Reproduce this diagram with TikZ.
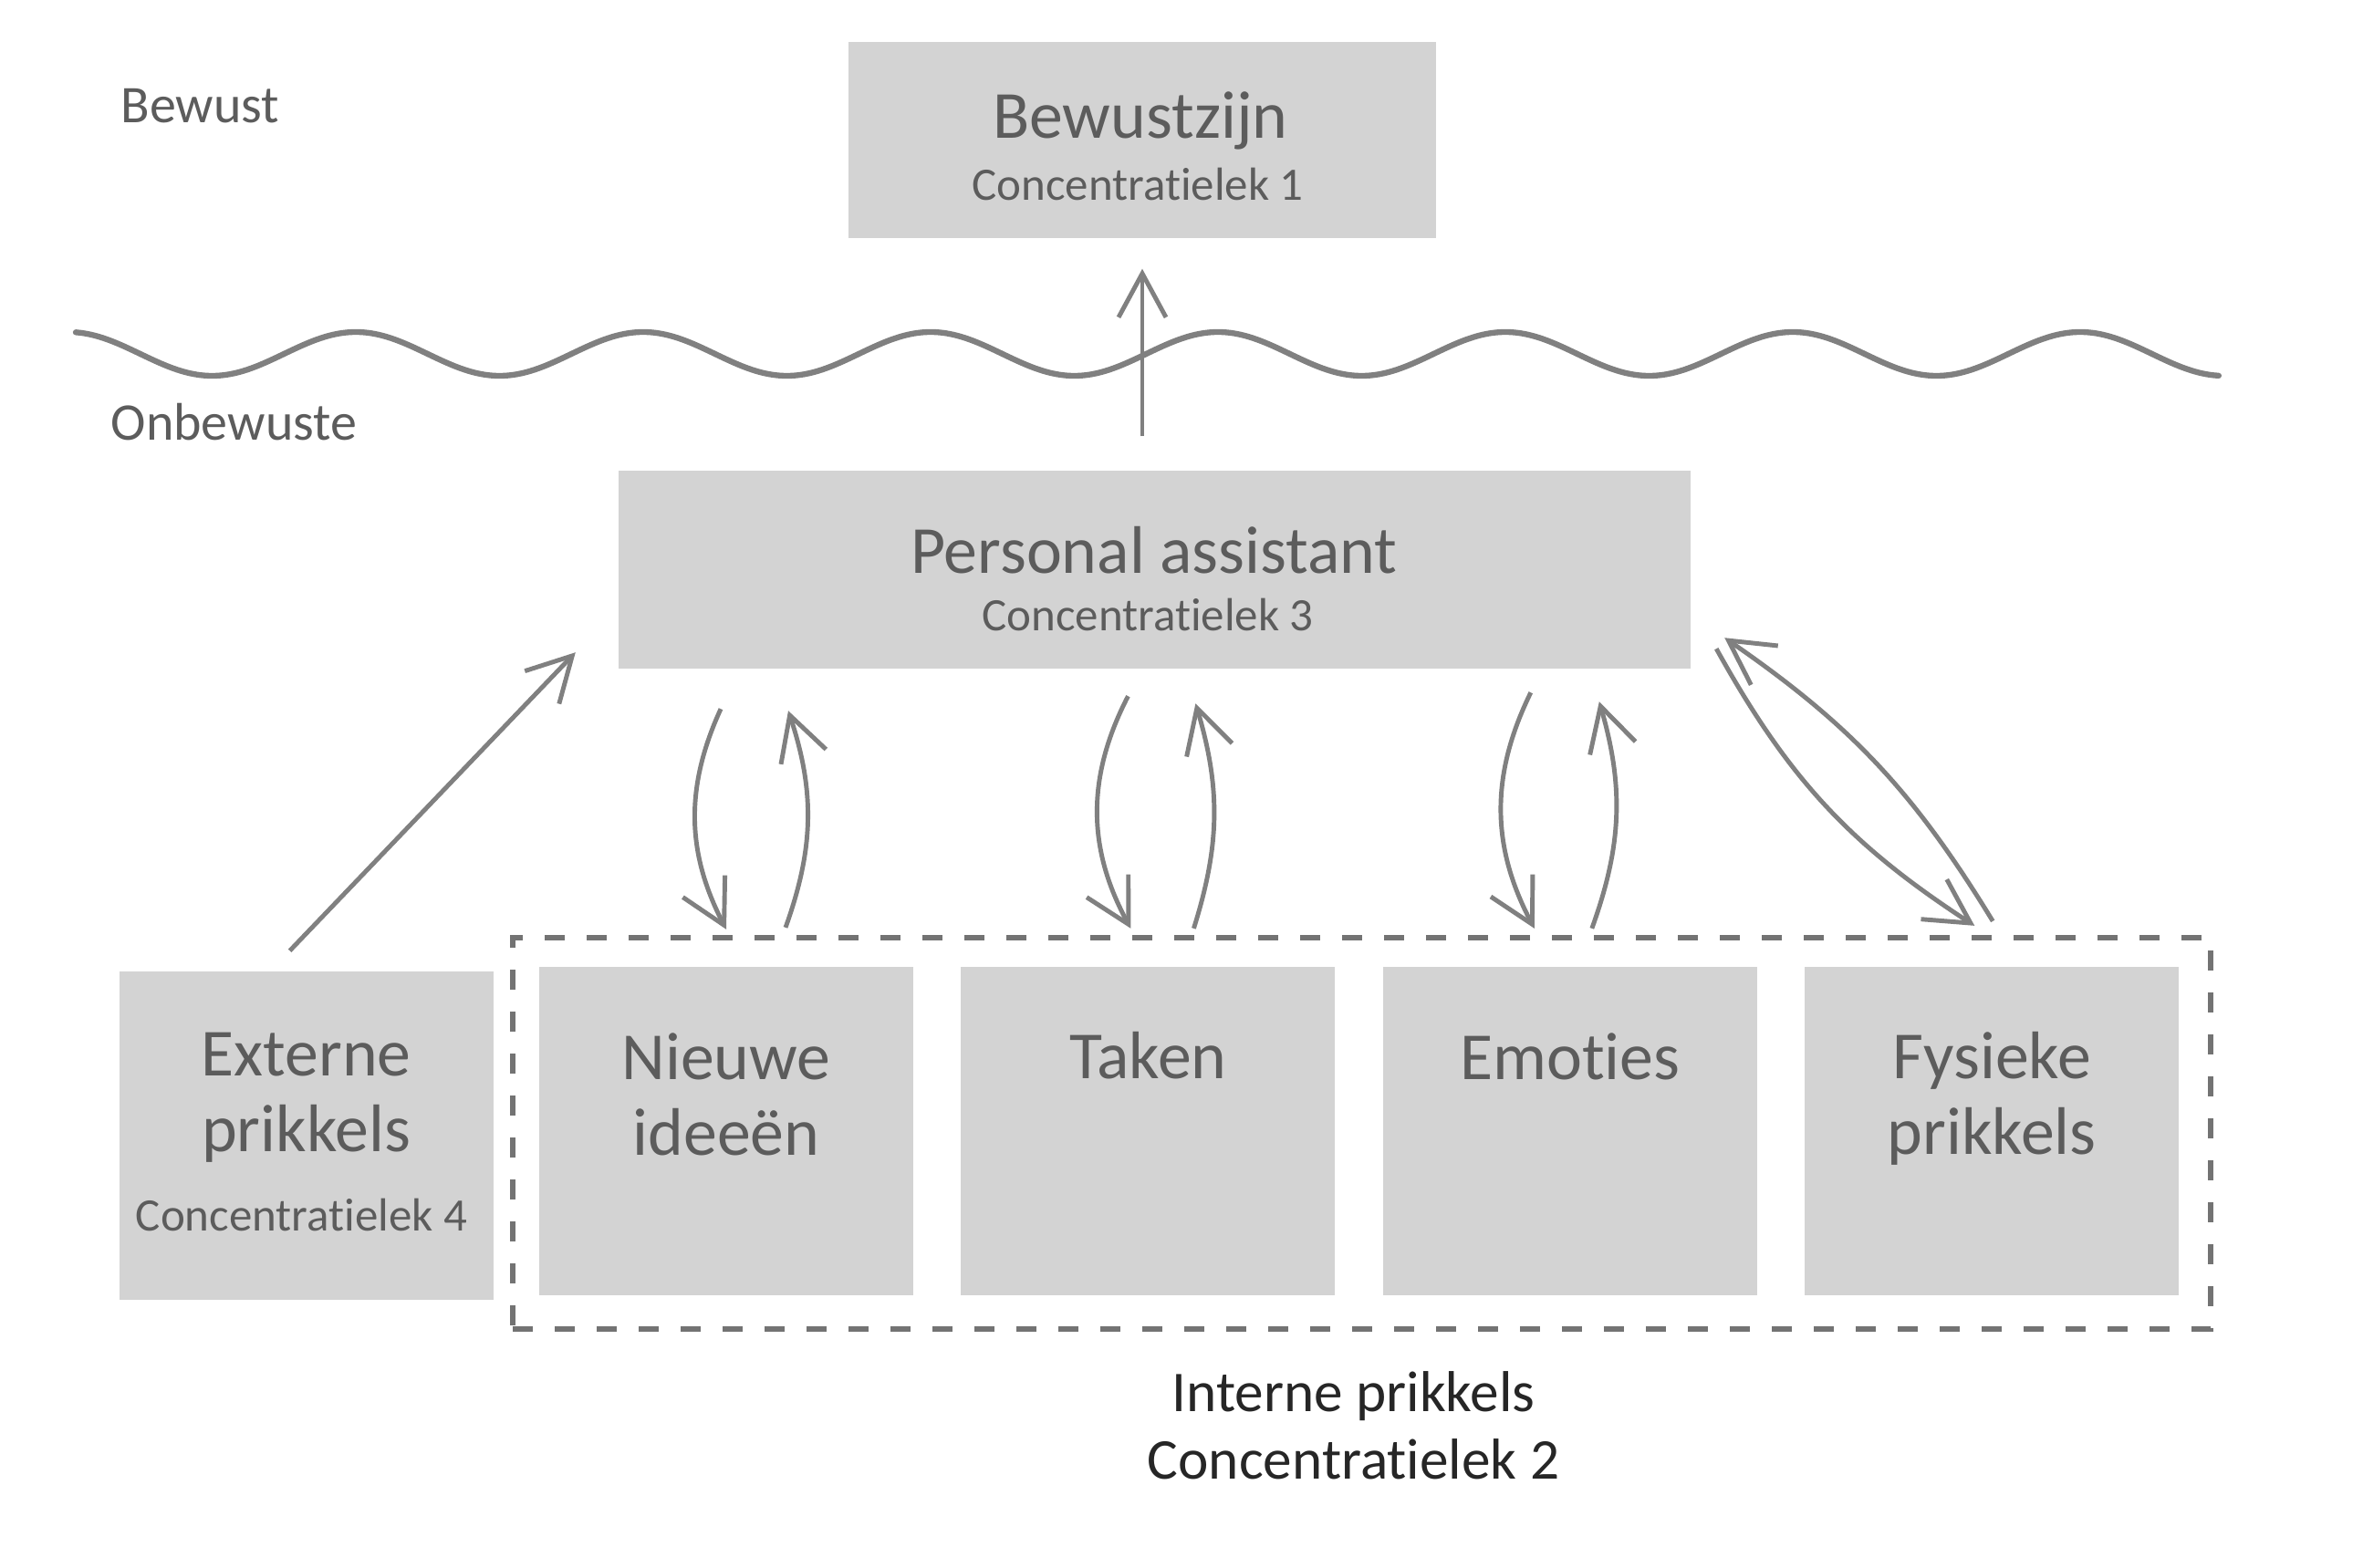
\documentclass[tikz,border=0pt]{standalone}
\usepackage{fontspec}
\setmainfont{Carlito}[Ligatures=NoCommon]
\usetikzlibrary{calc,arrows.meta,positioning}
\definecolor{blokgrijs}{RGB}{211,211,211}
\definecolor{tekstgrijs}{RGB}{92,92,92}
\definecolor{lijngrijs}{RGB}{128,128,128}
\tikzset{
  blok/.style={fill=blokgrijs, draw=none, inner sep=0pt,
    minimum width=4.1cm, minimum height=3.6cm},
  titel/.style={text=tekstgrijs, font=\fontsize{21pt}{23.6pt}\selectfont,
    align=center, inner sep=0pt},
  sub/.style={text=tekstgrijs, font=\fontsize{14.5pt}{17pt}\selectfont, inner sep=0pt},
  laag/.style={text=tekstgrijs, font=\fontsize{16.5pt}{20pt}\selectfont,
    anchor=base west, inner sep=0pt},
  pijl/.style={draw=lijngrijs, line width=1.4pt,
    -{Straight Barb[length=4.8mm,width=5.2mm]}},
}

\begin{document}
\begin{tikzpicture}
  \fill[white](0,0)rectangle(25.9,-17.18);
  \useasboundingbox(0,0)rectangle(25.9,-17.18);
  % grens tussen bewust en onbewust
  \draw[lijngrijs, line width=1.8pt, line cap=round]
    plot[domain=0.83:24.32, samples=400, smooth](\x,{-3.88+0.24*cos(360*(\x-0.75)/3.15)});
  \node[laag](bewust) at (1.32,-1.35){Bewust};
  \node[laag](onbewust) at (1.21,-4.82){Onbewuste};

  \node[blok, minimum width=6.44cm, minimum height=2.15cm](bew) at (12.52,-1.54){};
  \node[titel, anchor=base](bew-t) at (12.50,-1.52){Bewustzijn};
  \node[sub, anchor=base](bew-s) at (12.47,-2.20){Concentratielek 1};

  \node[blok, minimum width=11.75cm, minimum height=2.17cm](pa) at (12.65,-6.24){};
  \node[titel, anchor=base](pa-t) at (12.65,-6.28){Personal assistant};
  \node[sub, anchor=base](pa-s) at (12.58,-6.91){Concentratielek 3};

  % prikkels
  \node[blok](nieuw) at (7.96,-12.40){};
  \node[blok, right=0.51cm of nieuw](taken){};
  \node[blok, right=0.51cm of taken](emo){};
  \node[blok, right=0.51cm of emo](fys){};
  \node[blok, left=0.49cm of nieuw, yshift=-0.05cm](ext){};
  \node[titel, below=0.67cm of ext.north](ext-t){Externe\\prikkels};
  \node[sub, anchor=base](ext-s) at ($(ext.north)+(-0.05,-2.85)$){Concentratielek 4};
  \node[titel, below=0.73cm of nieuw.north](nieuw-t){Nieuwe\\ideeën};
  \node[titel, below=0.71cm of taken.north](taken-t){Taken};
  \node[titel, below=0.73cm of emo.north](emo-t){Emoties};
  \node[titel, below=0.71cm of fys.north](fys-t){Fysieke\\prikkels};

  \node[draw=lijngrijs!90!black, line width=1.8pt, dash pattern=on 0.22cm off 0.24cm,
    minimum width=18.61cm, minimum height=4.29cm, inner sep=0pt](intern) at (14.925,-12.425){};
  \node[below=0.43cm of intern, xshift=-0.09cm, align=center, inner sep=0pt,
    text=black!85, font=\fontsize{18pt}{21pt}\selectfont](intern-t){Interne prikkels\\Concentratielek 2};

  % pijlen
  \draw[pijl]($(bew.south |- pa.north)+(0,0.365)$)--($(bew.south)+(0,-0.325)$);
  \draw[pijl]($(ext.north)+(-0.18,0.22)$)--($(pa.south west)+(-0.46,0.18)$);
  \draw[pijl]($(nieuw.north |- pa.south)+(-0.06,-0.44)$) to[bend right=26]
    ($(nieuw.north |- intern.north)+(0,0.06)$);
  \draw[pijl]($(nieuw.north |- intern.north)+(0.65,0.08)$) to[bend right=19]
    ($(nieuw.north |- pa.south)+(0.68,-0.46)$);
  \draw[pijl]($(taken.north |- pa.south)+(-0.22,-0.30)$) to[bend right=28]
    ($(taken.north |- intern.north)+(-0.19,0.07)$);
  \draw[pijl]($(taken.north |- intern.north)+(0.50,0.07)$) to[bend right=17]
    ($(taken.north |- pa.south)+(0.52,-0.38)$);
  \draw[pijl]($(emo.north |- pa.south)+(-0.43,-0.26)$) to[bend right=27]
    ($(emo.north |- intern.north)+(-0.39,0.07)$);
  \draw[pijl]($(emo.north |- intern.north)+(0.24,0.07)$) to[bend right=18]
    ($(emo.north |- pa.south)+(0.32,-0.36)$);
  \draw[pijl]($(pa.south east)+(0.28,0.22)$) to[bend right=14]
    ($(fys.north |- intern.north)+(-0.19,0.10)$);
  \draw[pijl]($(fys.north |- intern.north)+(0.01,0.15)$) to[bend right=12]
    ($(pa.south east)+(0.37,0.34)$);
\end{tikzpicture}
\end{document}
